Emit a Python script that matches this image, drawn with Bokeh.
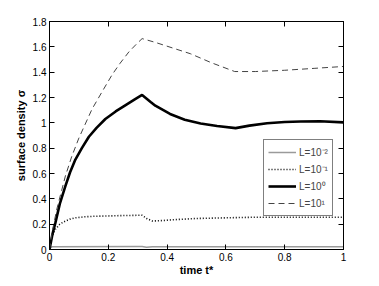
from bokeh.plotting import figure
from bokeh.models import Range1d, FixedTicker, LinearAxis, Legend, LegendItem
from bokeh.embed import file_html
from bokeh.resources import INLINE

# ---- data ----
t_m2 = [0, 0.005, 0.01, 0.3, 0.315, 0.33, 0.35, 1.0]
s_m2 = [0, 0.018, 0.022, 0.023, 0.023, 0.018, 0.022, 0.022]

t_m1 = [0, 0.005, 0.01, 0.02, 0.035, 0.054, 0.07, 0.088, 0.12, 0.15, 0.2, 0.25,
        0.3, 0.315, 0.33, 0.35, 0.38, 0.42, 0.5, 0.6, 0.7, 0.8, 0.9, 1.0]
s_m1 = [0, 0.07, 0.11, 0.16, 0.20, 0.225, 0.24, 0.25, 0.258, 0.262, 0.265, 0.268,
        0.27, 0.27, 0.245, 0.225, 0.228, 0.235, 0.245, 0.25, 0.255, 0.255, 0.255, 0.255]

t_0 = [0, 0.01, 0.02, 0.035, 0.054, 0.07, 0.088, 0.11, 0.134, 0.16, 0.19, 0.225,
       0.259, 0.29, 0.315, 0.344, 0.36, 0.41, 0.46, 0.514, 0.57, 0.633, 0.68, 0.74,
       0.8, 0.854, 0.92, 1.0]
s_0 = [0, 0.12, 0.21, 0.36, 0.50, 0.61, 0.71, 0.80, 0.89, 0.96, 1.03, 1.09,
       1.14, 1.185, 1.22, 1.165, 1.135, 1.07, 1.025, 0.995, 0.975, 0.958, 0.978, 0.997,
       1.006, 1.01, 1.012, 1.004]

t_1 = [0, 0.01, 0.025, 0.054, 0.075, 0.10, 0.145, 0.18, 0.213, 0.24, 0.27, 0.295,
       0.315, 0.36, 0.42, 0.48, 0.55, 0.63, 0.7, 0.8, 0.9, 1.0]
s_1 = [0, 0.15, 0.32, 0.58, 0.73, 0.88, 1.11, 1.25, 1.38, 1.47, 1.56, 1.62,
       1.665, 1.635, 1.59, 1.545, 1.475, 1.405, 1.405, 1.415, 1.43, 1.445]

x_ticks = [0, 0.2, 0.4, 0.6, 0.8, 1.0]
x_tick_labels = ["0", "0.2", "0.4", "0.6", "0.8", "1"]
y_ticks = [0, 0.2, 0.4, 0.6, 0.8, 1.0, 1.2, 1.4, 1.6, 1.8]
y_tick_labels = ["0", "0.2", "0.4", "0.6", "0.8", "1", "1.2", "1.4", "1.6", "1.8"]
legend_labels = ["L=10\u207b\u00b2", "L=10\u207b\u00b9", "L=10\u2070", "L=10\u00b9"]

FONT = "Liberation Sans"

p = figure(width=371, height=278, output_backend="svg", toolbar_location=None,
           x_range=Range1d(0, 1), y_range=Range1d(0, 1.8),
           min_border_left=49, min_border_right=28, min_border_top=21, min_border_bottom=28)
p.background_fill_color = "white"
p.border_fill_color = "white"
p.outline_line_color = "black"
p.outline_line_width = 1
p.grid.visible = False

r1 = p.line(t_m2, s_m2, line_color="#9a9a9a", line_width=1.5)
r2 = p.line(t_m1, s_m1, line_color="black", line_width=1.6, line_dash="1 2")
r3 = p.line(t_0, s_0, line_color="black", line_width=2.6)
r4 = p.line(t_1, s_1, line_color="#444444", line_width=1, line_dash="6 4")

def style_axis(ax, ticks, labels, show_labels=True):
    ax.ticker = FixedTicker(ticks=ticks)
    ax.major_label_overrides = {k: v for k, v in zip(ticks, labels)}
    ax.major_tick_in = 5
    ax.major_tick_out = 0
    ax.minor_tick_line_color = None
    ax.major_tick_line_color = "black"
    ax.axis_line_color = "black"
    ax.major_label_text_font = FONT
    ax.major_label_text_font_size = "10px" if show_labels else "0px"
    ax.major_label_text_color = "black"
    ax.major_label_standoff = 3 if show_labels else 0

style_axis(p.xaxis[0], x_ticks, x_tick_labels)
style_axis(p.yaxis[0], y_ticks, y_tick_labels)
p.xaxis[0].axis_label = "time t*"
p.yaxis[0].axis_label = "surface density \u03c3"
for ax in (p.xaxis[0], p.yaxis[0]):
    ax.axis_label_text_font = FONT
    ax.axis_label_text_font_size = "11px"
    ax.axis_label_text_font_style = "bold"
    ax.axis_label_text_color = "black"
p.xaxis[0].axis_label_standoff = 0
p.yaxis[0].axis_label_standoff = 3

top = LinearAxis()
style_axis(top, x_ticks, [""] * len(x_ticks), show_labels=False)
p.add_layout(top, "above")
right = LinearAxis()
style_axis(right, y_ticks, [""] * len(y_ticks), show_labels=False)
p.add_layout(right, "right")

legend = Legend(items=[LegendItem(label=legend_labels[0], renderers=[r1]),
                       LegendItem(label=legend_labels[1], renderers=[r2]),
                       LegendItem(label=legend_labels[2], renderers=[r3]),
                       LegendItem(label=legend_labels[3], renderers=[r4])],
                location=(214, 33), margin=0, padding=4, spacing=1,
                glyph_width=28, glyph_height=16, label_height=16,
                label_standoff=3, label_text_font=FONT, label_text_font_size="10px",
                border_line_color="black", border_line_width=1,
                background_fill_color="white", background_fill_alpha=1)
p.add_layout(legend)

open("out.html", "w").write(file_html(p, INLINE))
